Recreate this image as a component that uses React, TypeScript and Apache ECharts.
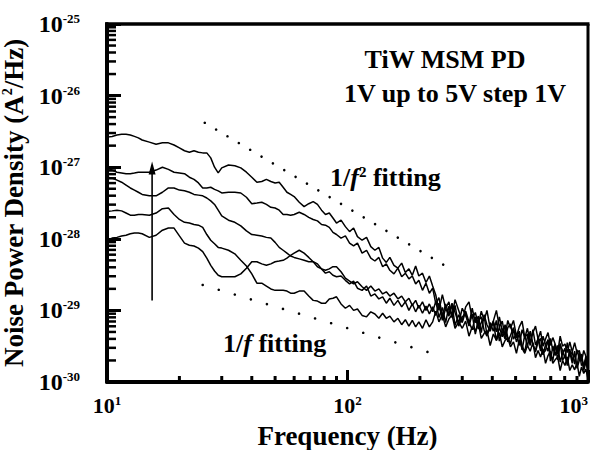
import React, { useEffect, useRef } from "react";
import * as echarts from "echarts";

// Frequency (Hz), shared by all five curves
const freq = [10, 10.5, 11, 11.5, 12, 12.5, 13, 13.5, 14,
  15, 16, 17, 18, 19, 20, 21, 22, 23, 24, 25, 26, 27, 28, 29, 30,
  32, 34, 36, 38, 40, 42, 44, 46, 48, 50, 52, 54, 56, 58, 60,
  63, 66, 69, 72, 75, 78, 81, 84, 87, 90,
  94, 98, 102, 106, 110,
  115, 120, 125, 130, 135, 140, 145, 150,
  156, 162, 168, 174, 180, 186, 192, 198,
  205, 212, 219, 226, 233, 240,
  248, 256, 264, 272, 280,
  290, 300, 310, 320, 330, 340, 350, 360, 370, 380,
  392, 404, 416, 428, 440, 452, 464, 476,
  490, 504, 518, 532, 546, 560,
  575, 590, 605, 620, 635, 650,
  666, 682, 698, 714, 730,
  748, 766, 784, 802, 820,
  840, 860, 880, 900, 920, 940, 960, 980, 1000];

// log10 of noise power density (A^2/Hz)
const psd5V = [-26.58, -26.57, -26.55, -26.54, -26.54, -26.55, -26.57, -26.59, -26.62, -26.65,
  -26.68, -26.66, -26.66, -26.69, -26.73, -26.77, -26.79, -26.77, -26.79, -26.80,
  -26.80, -26.87, -27.00, -27.08, -27.01, -26.97, -26.98, -27.01, -27.07, -27.14,
  -27.21, -27.20, -27.17, -27.20, -27.22, -27.21, -27.28, -27.35, -27.38, -27.41,
  -27.49, -27.55, -27.51, -27.48, -27.52, -27.60, -27.66, -27.64, -27.71, -27.78,
  -27.74, -27.83, -27.90, -27.85, -27.97, -28.02, -27.98, -28.11, -28.16, -28.12,
  -28.27, -28.33, -28.26, -28.37, -28.41, -28.34, -28.47, -28.42, -28.51, -28.38,
  -28.52, -28.48, -28.61, -28.52, -28.66,
  -28.79, -29.00, -28.78, -28.97, -28.88, -29.08, -28.85, -29.00, -29.15, -28.95,
  -28.88, -29.11, -29.03, -29.20, -29.01, -29.14, -29.00, -29.25, -29.15, -29.00,
  -29.23, -29.15, -29.36, -29.14, -29.25, -29.14, -29.36, -29.23, -29.15, -29.38,
  -29.25, -29.45, -29.31, -29.22, -29.40, -29.29, -29.50, -29.40, -29.31, -29.49,
  -29.38, -29.47, -29.59, -29.36, -29.50, -29.47, -29.59, -29.44, -29.58, -29.45,
  -29.59, -29.56, -29.71, -29.56, -29.64, -29.70];

const psd4V = [-27.01, -27.04, -27.07, -27.08, -27.09, -27.09, -27.08, -27.07, -27.07, -27.07,
  -27.04, -27.00, -27.03, -27.07, -27.08, -27.09, -27.14, -27.17, -27.22, -27.29,
  -27.29, -27.28, -27.31, -27.33, -27.36, -27.35, -27.35, -27.36, -27.42, -27.51,
  -27.50, -27.49, -27.52, -27.56, -27.57, -27.60, -27.66, -27.66, -27.67, -27.66,
  -27.63, -27.66, -27.70, -27.73, -27.75, -27.80, -27.81, -27.84, -27.91, -27.94,
  -27.99, -27.96, -28.06, -28.10, -28.06, -28.20, -28.16, -28.27, -28.31, -28.26,
  -28.39, -28.35, -28.44, -28.49, -28.41, -28.53, -28.48, -28.56, -28.52, -28.63,
  -28.58, -28.72, -28.62, -28.76, -28.69,
  -28.91, -28.82, -29.08, -28.91, -29.06, -28.90, -29.03, -29.18, -28.97, -29.07,
  -29.20, -28.97, -29.17, -29.08, -29.31, -29.06, -29.20, -29.29, -29.15, -29.30,
  -29.09, -29.29, -29.40, -29.24, -29.19, -29.40, -29.32, -29.49, -29.27, -29.38,
  -29.33, -29.49, -29.27, -29.48, -29.40, -29.57, -29.36, -29.48, -29.57, -29.39,
  -29.56, -29.47, -29.69, -29.48, -29.56, -29.67, -29.45, -29.64, -29.58, -29.75,
  -29.55, -29.68, -29.61, -29.80, -29.64, -29.80];

const psd3V = [-27.14, -27.15, -27.18, -27.21, -27.25, -27.29, -27.32, -27.35, -27.38, -27.40,
  -27.40, -27.35, -27.29, -27.29, -27.32, -27.33, -27.35, -27.38, -27.39, -27.40,
  -27.43, -27.47, -27.52, -27.60, -27.68, -27.74, -27.77, -27.82, -27.89, -27.94,
  -27.95, -27.96, -27.98, -27.99, -28.05, -28.12, -28.16, -28.20, -28.24, -28.26,
  -28.28, -28.30, -28.32, -28.32, -28.35, -28.42, -28.48, -28.46, -28.51, -28.53,
  -28.52, -28.58, -28.63, -28.59, -28.69, -28.72, -28.66, -28.80, -28.77, -28.84,
  -28.81, -28.90, -28.83, -28.93, -28.86, -28.95, -28.88, -29.00, -28.91, -29.02,
  -28.93, -29.04, -28.94, -29.05, -28.95,
  -29.07, -28.90, -29.14, -28.97, -29.08, -28.92, -29.21, -29.06, -29.17, -29.01,
  -29.16, -29.27, -29.09, -29.26, -29.17, -29.08, -29.34, -29.25, -29.17, -29.42,
  -29.23, -29.37, -29.20, -29.38, -29.47, -29.28, -29.38, -29.29, -29.49, -29.58,
  -29.37, -29.31, -29.49, -29.56, -29.38, -29.51, -29.62, -29.48, -29.41, -29.61,
  -29.70, -29.49, -29.61, -29.46, -29.70, -29.63, -29.75, -29.54, -29.70, -29.61,
  -29.79, -29.58, -29.77, -29.74, -29.68, -29.86];

const psd2V = [-27.62, -27.61, -27.60, -27.61, -27.64, -27.67, -27.67, -27.66, -27.66, -27.67,
  -27.64, -27.58, -27.57, -27.66, -27.73, -27.77, -27.78, -27.80, -27.81, -27.84,
  -27.94, -28.02, -28.07, -28.12, -28.13, -28.16, -28.21, -28.30, -28.38, -28.49,
  -28.62, -28.62, -28.66, -28.70, -28.72, -28.72, -28.72, -28.73, -28.76, -28.76,
  -28.73, -28.73, -28.80, -28.86, -28.87, -28.90, -28.90, -28.84, -28.83, -28.81,
  -28.91, -28.97, -28.93, -29.00, -28.98, -29.07, -29.09, -29.02, -29.05, -29.11,
  -29.04, -29.11, -29.08, -29.16, -29.11, -29.20, -29.13, -29.22, -29.14, -29.23,
  -29.16, -29.25, -29.13, -29.23, -29.16,
  -29.01, -29.16, -29.06, -29.23, -29.12, -29.06, -29.25, -29.16, -29.25, -29.15,
  -29.36, -29.23, -29.29, -29.18, -29.39, -29.32, -29.28, -29.49, -29.33, -29.42,
  -29.31, -29.51, -29.42, -29.38, -29.51, -29.44, -29.60, -29.41, -29.53, -29.60,
  -29.49, -29.57, -29.45, -29.66, -29.56, -29.65, -29.54, -29.74, -29.63, -29.57,
  -29.74, -29.69, -29.65, -29.84, -29.70, -29.77, -29.65, -29.84, -29.76, -29.83,
  -29.73, -29.92, -29.79, -29.88, -29.82, -29.96];

const psd1V = [-28.02, -27.99, -27.98, -27.96, -27.95, -27.93, -27.92, -27.92, -27.93, -27.98,
  -27.95, -27.88, -27.85, -27.85, -27.96, -28.06, -28.09, -28.10, -28.13, -28.18,
  -28.27, -28.37, -28.45, -28.51, -28.53, -28.53, -28.53, -28.49, -28.41, -28.32,
  -28.32, -28.35, -28.37, -28.35, -28.32, -28.31, -28.30, -28.27, -28.23, -28.20,
  -28.16, -28.20, -28.26, -28.32, -28.39, -28.42, -28.44, -28.42, -28.39, -28.39,
  -28.46, -28.55, -28.59, -28.63, -28.60, -28.67, -28.72, -28.66, -28.73, -28.70,
  -28.77, -28.74, -28.80, -28.76, -28.84, -28.80, -28.88, -28.83, -28.93, -28.86,
  -28.97, -28.88, -29.00, -28.91, -29.02,
  -28.87, -29.10, -28.96, -29.17, -28.94, -29.10, -28.93, -29.22, -29.09, -29.05,
  -29.22, -29.05, -29.33, -29.14, -29.09, -29.28, -29.36, -29.17, -29.29, -29.14,
  -29.43, -29.27, -29.22, -29.44, -29.35, -29.24, -29.44, -29.33, -29.55, -29.34,
  -29.51, -29.29, -29.47, -29.58, -29.44, -29.39, -29.60, -29.56, -29.41, -29.71,
  -29.50, -29.63, -29.49, -29.72, -29.60, -29.53, -29.77, -29.58, -29.74, -29.57,
  -29.81, -29.70, -29.63, -29.84, -29.72, -29.84];

// Fitting lines (end points): [frequency, log10 PSD]
const fitInvF2 = [[25.5, -26.38], [250, -28.36]];
const fitInvF = [[25, -28.645], [215, -29.58]];
// Arrow (increasing bias)
const arrowFreq = 15.4;
const arrowFrom = -28.86;
const arrowTo = -26.92;

// Axis ticks
const xMin = 10, xMax = 1000;
const yMin = -30, yMax = -25;
const xMinorTicks = [20, 30, 40, 50, 60, 70, 80, 90, 200, 300, 400, 500, 600, 700, 800, 900];
const yDecades = [-30, -29, -28, -27, -26];
const minorMultipliers = [2, 3, 4, 5, 6, 7, 8, 9];

const FONT = '"Liberation Serif", "Times New Roman", serif';

export default function App() {
  const ref = useRef<HTMLDivElement>(null);

  useEffect(() => {
    document.body.style.margin = "0";
    const chart = echarts.init(ref.current!, null, { renderer: "svg" });

    const curves = [psd1V, psd2V, psd3V, psd4V, psd5V];
    const curveSeries = curves.map((c, k) => ({
      name: `${k + 1}V`,
      type: "line",
      data: freq.map((f, i) => [f, c[i]]),
      symbol: "none",
      lineStyle: { color: "#000", width: 1.5 },
    }));

    const supRich = {
      s: { fontSize: 13, fontWeight: "bold", fontFamily: FONT, color: "#000", verticalAlign: "top" },
    };

    chart.setOption({
      animation: false,
      grid: { left: 107, right: 12, top: 24, bottom: 68, containLabel: false, outerBoundsMode: "none" },
      xAxis: {
        type: "log",
        min: xMin,
        max: xMax,
        name: "Frequency (Hz)",
        nameLocation: "middle",
        nameGap: 40,
        nameTextStyle: { fontFamily: FONT, fontWeight: "bold", fontSize: 27, color: "#000" },
        axisLine: { show: true, lineStyle: { color: "#000", width: 4 } },
        axisTick: { show: true, inside: true, length: 12, lineStyle: { color: "#000", width: 3 } },
        splitLine: { show: false },
        axisLabel: {
          showMinLabel: true,
          showMaxLabel: true,
          alignMaxLabel: "right",
          margin: 12,
          fontFamily: FONT,
          fontWeight: "bold",
          fontSize: 22,
          color: "#000",
          formatter: (v: number) => `10{s|${Math.round(Math.log10(v))}}`,
          rich: supRich,
        },
      },
      yAxis: {
        type: "value",
        min: yMin,
        max: yMax,
        interval: 1,
        name: "Noise Power Density (A{s|2}/Hz)",
        nameLocation: "middle",
        nameGap: 70,
        nameTextStyle: {
          fontFamily: FONT,
          fontWeight: "bold",
          fontSize: 27,
          color: "#000",
          rich: { s: { fontSize: 14, fontWeight: "bold", fontFamily: FONT, color: "#000", verticalAlign: "top" } },
        },
        axisLine: { show: true, lineStyle: { color: "#000", width: 4 } },
        axisTick: { show: true, inside: true, length: 14, lineStyle: { color: "#000", width: 3 } },
        splitLine: { show: false },
        axisLabel: {
          showMinLabel: true,
          showMaxLabel: true,
          margin: 27,
          fontFamily: FONT,
          fontWeight: "bold",
          fontSize: 24,
          color: "#000",
          formatter: (v: number) => `10{s|${Math.round(v)}}`,
          rich: supRich,
        },
      },
      series: curveSeries,
    });

    // Minor ticks, frame, fitting dots and arrow placed through the chart's own axis scales
    const px = (x: number, y: number) => chart.convertToPixel({ seriesIndex: 0 }, [x, y]) as number[];
    const g: any[] = [];
    xMinorTicks.forEach((v) => {
      const p = px(v, yMin);
      g.push({ type: "rect", shape: { x: p[0] - 1.5, y: p[1] - 6, width: 3, height: 6 }, style: { fill: "#000" } });
    });
    yDecades.forEach((d) => {
      minorMultipliers.forEach((m) => {
        const q = px(xMin, d + Math.log10(m));
        g.push({ type: "rect", shape: { x: q[0], y: q[1] - 1.25, width: 9, height: 2.5 }, style: { fill: "#000" } });
      });
    });
    const tl = px(xMin, yMax);
    const br = px(xMax, yMin);
    g.push({ type: "line", shape: { x1: tl[0] - 2, y1: tl[1], x2: br[0] + 1.5, y2: tl[1] }, style: { stroke: "#000", lineWidth: 3.5 } });
    g.push({ type: "line", shape: { x1: br[0], y1: tl[1], x2: br[0], y2: br[1] }, style: { stroke: "#000", lineWidth: 3 } });

    // dotted fitting lines: dots spaced along the segment between the two fitted end points
    const dotted = (pts: number[][], spacing: number) => {
      const p0 = px(pts[0][0], pts[0][1]);
      const p1 = px(pts[1][0], pts[1][1]);
      const len = Math.hypot(p1[0] - p0[0], p1[1] - p0[1]);
      const n = Math.max(1, Math.round(len / spacing));
      for (let k = 0; k <= n; k++) {
        g.push({
          type: "circle",
          shape: { cx: p0[0] + ((p1[0] - p0[0]) * k) / n, cy: p0[1] + ((p1[1] - p0[1]) * k) / n, r: 1.3 },
          style: { fill: "#000" },
        });
      }
    };
    dotted(fitInvF2, 13);
    dotted(fitInvF, 17);

    const a0 = px(arrowFreq, arrowFrom);
    const a1 = px(arrowFreq, arrowTo);
    g.push({ type: "line", shape: { x1: a0[0], y1: a0[1], x2: a1[0], y2: a1[1] + 10 }, style: { stroke: "#000", lineWidth: 1.6 } });
    g.push({ type: "polygon", shape: { points: [[a1[0], a1[1]], [a1[0] - 3.5, a1[1] + 13], [a1[0] + 3.5, a1[1] + 13]] }, style: { fill: "#000" } });

    const texts = [
      {
        type: "text",
        x: 445,
        y: 59,
        style: { text: "TiW MSM PD", fontFamily: FONT, fontWeight: "bold", fontSize: 26, fill: "#000", align: "center", verticalAlign: "middle" },
      },
      {
        type: "text",
        x: 455,
        y: 93,
        style: { text: "1V up to 5V step 1V", fontFamily: FONT, fontWeight: "bold", fontSize: 26, fill: "#000", align: "center", verticalAlign: "middle" },
      },
      {
        type: "text",
        x: 330,
        y: 177,
        style: {
          text: "{n|1/}{i|f}{s|2}{n| fitting}",
          align: "left",
          verticalAlign: "middle",
          rich: {
            n: { fontFamily: FONT, fontWeight: "bold", fontSize: 26, fill: "#000" },
            i: { fontFamily: FONT, fontWeight: "bold", fontStyle: "italic", fontSize: 26, fill: "#000" },
            s: { fontFamily: FONT, fontWeight: "bold", fontSize: 15, fill: "#000", verticalAlign: "top" },
          },
        },
      },
      {
        type: "text",
        x: 223,
        y: 343,
        style: {
          text: "{n|1/}{i|f}{n| fitting}",
          align: "left",
          verticalAlign: "middle",
          rich: {
            n: { fontFamily: FONT, fontWeight: "bold", fontSize: 26, fill: "#000" },
            i: { fontFamily: FONT, fontWeight: "bold", fontStyle: "italic", fontSize: 26, fill: "#000" },
          },
        },
      },
    ];

    chart.setOption({ graphic: [...g, ...texts] });
    return () => chart.dispose();
  }, []);

  return <div ref={ref} style={{ width: 600, height: 450 }} />;
}
